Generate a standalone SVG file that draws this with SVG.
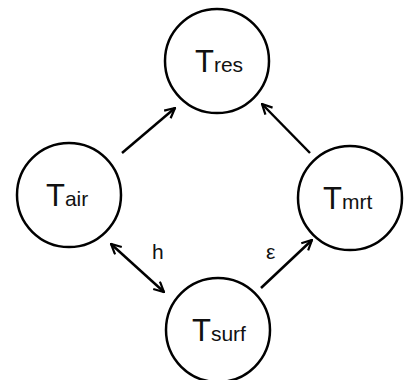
<svg xmlns="http://www.w3.org/2000/svg" width="404" height="380" viewBox="0 0 404 380">
<style>
.node{fill:#fff;stroke:#000;stroke-width:2.5}
.T{font-family:"Liberation Sans",Arial,sans-serif;font-size:31px;fill:#111}
.sub{font-size:21px}
.edge{stroke:#000;stroke-width:2.5;fill:none}
.lbl{font-family:"Liberation Sans",Arial,sans-serif;font-size:21px;fill:#111}
</style>
<defs>
<marker id="ah" viewBox="0 0 12 12" refX="11" refY="6" markerWidth="12" markerHeight="12" markerUnits="userSpaceOnUse" orient="auto-start-reverse">
<path d="M1,1 L11,6 L1,11" fill="none" stroke="#000" stroke-width="2.2"/>
</marker>
</defs>
<rect width="404" height="380" fill="#fff"/>
<g id="connectors">
<line class="edge" x1="122" y1="153" x2="175" y2="108" marker-end="url(#ah)"/>
<line class="edge" x1="310" y1="153" x2="262" y2="104" marker-end="url(#ah)"/>
<line class="edge" x1="111" y1="244" x2="164" y2="292" marker-start="url(#ah)" marker-end="url(#ah)"/>
<line class="edge" x1="261" y1="288" x2="312" y2="240" marker-end="url(#ah)"/>
<text class="lbl" x="152" y="259">h</text>
<text class="lbl" x="266" y="259">ε</text>
</g>
<g id="Tres">
<circle class="node" cx="217" cy="61" r="52"/>
<text class="T" x="195" y="72">T<tspan class="sub">res</tspan></text>
</g>
<g id="Tair">
<circle class="node" cx="69" cy="195" r="52"/>
<text class="T" x="46" y="206">T<tspan class="sub">air</tspan></text>
</g>
<g id="Tmrt">
<circle class="node" cx="350" cy="198" r="52"/>
<text class="T" x="323" y="209">T<tspan class="sub">mrt</tspan></text>
</g>
<g id="Tsurf">
<circle class="node" cx="218" cy="330" r="52"/>
<text class="T" x="192" y="341">T<tspan class="sub">surf</tspan></text>
</g>
</svg>
